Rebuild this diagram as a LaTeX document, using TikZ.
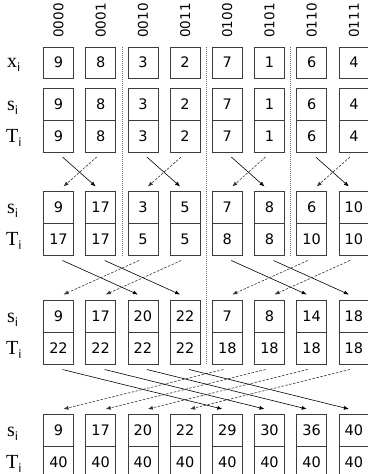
\documentclass[tikz,border=0pt]{standalone}
\usepackage{fontspec}
\setmainfont{DejaVu Sans}
\newfontfamily\labserif{Liberation Serif}
\usetikzlibrary{arrows.meta, calc}
\definecolor{boxgray}{RGB}{60,60,60}
\definecolor{sepgray}{RGB}{110,110,110}
\tikzset{
  cell/.style={rectangle, draw=boxgray, line width=0.8pt, minimum width=30pt,
               minimum height=#1, inner sep=0pt, outer sep=0pt, font=\fontsize{14.5}{14.5}\selectfont},
  cell/.default=32pt,
  bits/.style={rotate=90, inner sep=0pt, font=\fontsize{13.5}{13.5}\selectfont},
  rowlab/.style={anchor=base west, inner sep=0pt, font=\fontsize{20}{20}\labserif},
  fwd/.style={-{Latex[length=5pt,width=4pt]}, line width=0.6pt, color=black},
  bwd/.style={-{Latex[length=5pt,width=4pt]}, line width=0.6pt, color=black!80,
              dash pattern=on 2.5pt off 1.5pt},
  sep/.style={sepgray, line width=0.6pt, dash pattern=on 1pt off 1pt},
}
\newcommand{\sub}{\raisebox{-4pt}{\rmfamily\fontsize{11.5}{11.5}\selectfont i}}

\begin{document}
\begin{tikzpicture}[x=1pt, y=-1pt]
        \useasboundingbox (0,0) rectangle (367,474);
        % index bits
        \foreach \b [count=\i] in {0000,0001,0010,0011,0100,0101,0110,0111}
          \node[bits] (bit\i) at ({58.5+42.2*(\i-1)}, 20.5) {\b};

        % input row
        \node[rowlab] (lx) at (7, 67) {x\sub};
        \foreach \v [count=\i] in {9,8,3,2,7,1,6,4}
          \node[cell=31pt] (x\i) at ({58.5+42.2*(\i-1)}, 62.5) {\v};

        % stage a
        \node[rowlab] (lsa) at (7, 110) {s\sub};
        \node[rowlab] (lta) at (6, 142) {T\sub};
        \foreach \v [count=\i] in {9,8,3,2,7,1,6,4}
          \node[cell] (sa\i) at ({58.5+42.2*(\i-1)}, 104) {\v};
        \foreach \v [count=\i] in {9,8,3,2,7,1,6,4}
          \node[cell] (ta\i) at ({58.5+42.2*(\i-1)}, 136) {\v};

        % stage b
        \node[rowlab] (lsb) at (7, 213.5) {s\sub};
        \node[rowlab] (ltb) at (6, 245.5) {T\sub};
        \foreach \v [count=\i] in {9,17,3,5,7,8,6,10}
          \node[cell] (sb\i) at ({58.5+42.2*(\i-1)}, 207.5) {\v};
        \foreach \v [count=\i] in {17,17,5,5,8,8,10,10}
          \node[cell] (tb\i) at ({58.5+42.2*(\i-1)}, 239.5) {\v};

        % stage c
        \node[rowlab] (lsc) at (7, 322.5) {s\sub};
        \node[rowlab] (ltc) at (6, 354.5) {T\sub};
        \foreach \v [count=\i] in {9,17,20,22,7,8,14,18}
          \node[cell] (sc\i) at ({58.5+42.2*(\i-1)}, 316.5) {\v};
        \foreach \v [count=\i] in {22,22,22,22,18,18,18,18}
          \node[cell] (tc\i) at ({58.5+42.2*(\i-1)}, 348.5) {\v};

        % stage d
        \node[rowlab] (lsd) at (7, 436) {s\sub};
        \node[rowlab] (ltd) at (6, 468) {T\sub};
        \foreach \v [count=\i] in {9,17,20,22,29,30,36,40}
          \node[cell] (sd\i) at ({58.5+42.2*(\i-1)}, 430) {\v};
        \foreach \v [count=\i] in {40,40,40,40,40,40,40,40}
          \node[cell] (td\i) at ({58.5+42.2*(\i-1)}, 462) {\v};

        % group borders
        \draw[sep] ($(x2.north east)!.5!(x3.north west)$) -- ($(tb2.south east)!.5!(tb3.south west)$);
        \draw[sep] ($(x4.north east)!.5!(x5.north west)$) -- ($(tc4.south east)!.5!(tc5.south west)$);
        \draw[sep] ($(x6.north east)!.5!(x7.north west)$) -- ($(tb6.south east)!.5!(tb7.south west)$);

        % exchanges
        \foreach \a/\b in {1/2,3/4,5/6,7/8} {
          \draw[fwd] ([xshift=4pt,yshift=-5pt]ta\a.south) -- ([xshift=-5pt,yshift=5pt]sb\b.north);
          \draw[bwd] ([xshift=-4pt,yshift=-5pt]ta\b.south) -- ([xshift=5pt,yshift=5pt]sb\a.north);
        }
        \foreach \a/\b in {1/3,2/4,5/7,6/8} {
          \draw[fwd] ([xshift=4pt,yshift=-5pt]tb\a.south) -- ([xshift=-5pt,yshift=6pt]sc\b.north);
          \draw[bwd] ([xshift=-4pt,yshift=-5pt]tb\b.south) -- ([xshift=5pt,yshift=6pt]sc\a.north);
        }
        \foreach \a/\b in {1/5,2/6,3/7,4/8} {
          \draw[fwd] ([xshift=4pt,yshift=-5pt]tc\a.south) -- ([xshift=-5pt,yshift=5pt]sd\b.north);
          \draw[bwd] ([xshift=-4pt,yshift=-5pt]tc\b.south) -- ([xshift=5pt,yshift=5pt]sd\a.north);
        }
\end{tikzpicture}
\end{document}
